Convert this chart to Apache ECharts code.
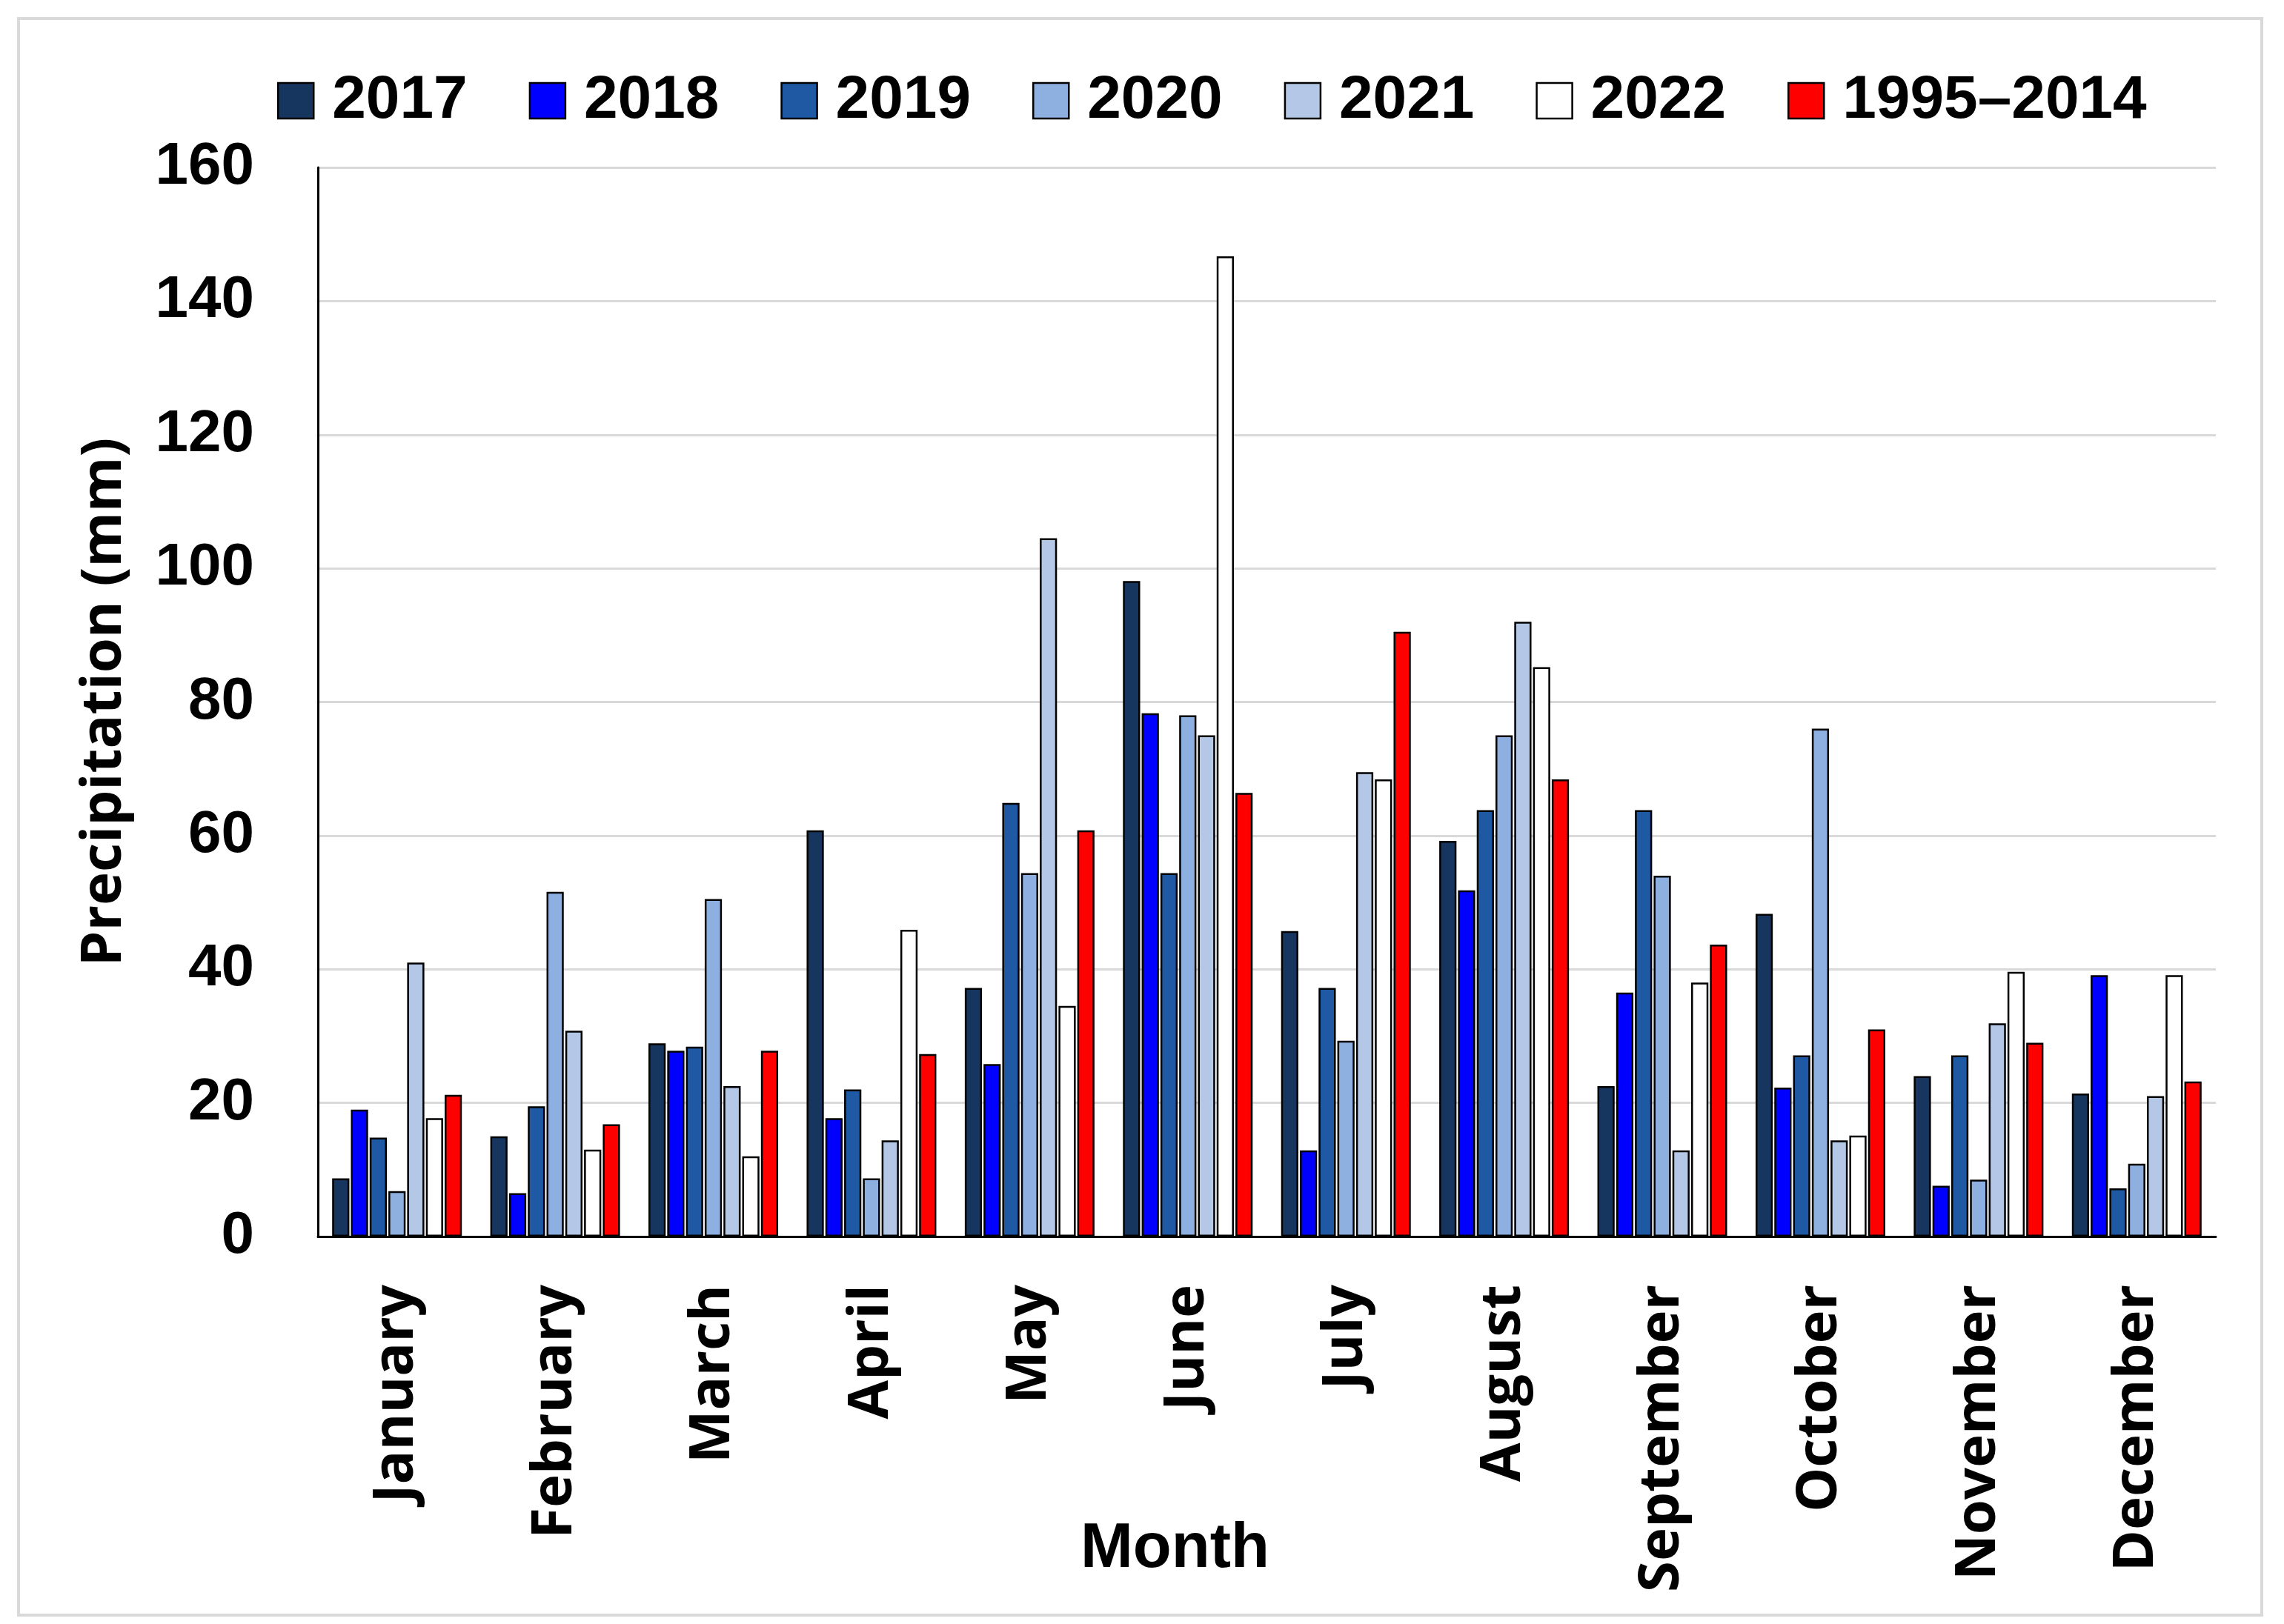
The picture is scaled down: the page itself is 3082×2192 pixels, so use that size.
<!DOCTYPE html>
<html>
<head>
<meta charset="utf-8">
<script src="https://cdn.jsdelivr.net/npm/echarts@6/dist/echarts.min.js"></script>
<style>
html,body{margin:0;padding:0;background:#fff;}
#chart{width:3082px;height:2192px;}
</style>
</head>
<body>
<div id="chart"></div>
<script>
const months = ["January","February","March","April","May","June","July","August","September","October","November","December"];
const seriesNames = ["2017","2018","2019","2020","2021","2022","1995\u20132014"];
const v2017 = [8.7, 15, 28.9, 60.8, 37.2, 98.1, 45.7, 59.2, 22.5, 48.3, 24, 21.4];
const v2018 = [19, 6.5, 27.8, 17.7, 25.8, 78.3, 12.9, 51.8, 36.5, 22.3, 7.6, 39.1];
const v2019 = [14.8, 19.5, 28.4, 22, 64.9, 54.4, 37.2, 63.8, 63.8, 27.1, 27.1, 7.2];
const v2020 = [6.8, 51.6, 50.5, 8.7, 54.4, 78, 29.3, 75, 54, 76, 8.5, 10.9];
const v2021 = [41, 30.8, 22.5, 14.4, 104.5, 75, 69.5, 92, 12.9, 14.4, 31.9, 21];
const v2022 = [17.7, 13, 12, 45.9, 34.5, 146.7, 68.4, 85.2, 38, 15.1, 39.6, 39.1];
const vRef = [21.2, 16.8, 27.8, 27.3, 60.8, 66.4, 90.5, 68.4, 43.7, 31, 29, 23.2];
const yTicks = [0, 20, 40, 60, 80, 100, 120, 140, 160];

const values = [v2017, v2018, v2019, v2020, v2021, v2022, vRef];
const colors = ["#17365f", "#0000ff", "#1f58a3", "#8db0e0", "#b4c7e7", "#ffffff", "#ff0000"];

const chart = echarts.init(document.getElementById('chart'), null, {renderer: 'canvas'});
const option = {
  backgroundColor: '#ffffff',
  animation: false,
  graphic: [{
    type: 'rect',
    shape: {x: 25, y: 25, width: 3027, height: 2155},
    style: {fill: 'none', stroke: '#d9d9d9', lineWidth: 4},
    silent: true
  }],
  legend: {
    data: seriesNames,
    left: 369,
    top: 90,
    icon: 'rect',
    itemWidth: 48,
    itemHeight: 48,
    itemGap: 83,
    itemStyle: {borderColor: '#000', borderWidth: 2.5},
    textStyle: {
      fontFamily: 'Liberation Sans',
      fontWeight: 'bold',
      fontSize: 82,
      color: '#000',
      padding: [0, 0, 0, 20]
    }
  },
  grid: {left: 429, right: 92, top: 226, bottom: 523, containLabel: false, outerBoundsMode: 'none'},
  xAxis: {
    type: 'category',
    data: months,
    name: 'Month',
    nameLocation: 'middle',
    nameGap: 380,
    nameMoveOverlap: false,
    nameTextStyle: {fontFamily: 'Liberation Sans', fontWeight: 'bold', fontSize: 85, color: '#000', padding: [0, 248, 0, 0]},
    axisLine: {lineStyle: {color: '#000', width: 3}},
    axisTick: {show: false},
    axisLabel: {
      interval: 0,
      rotate: 90,
      margin: 65,
      fontFamily: 'Open Sans',
      fontWeight: 'bold',
      fontSize: 76,
      color: '#000'
    }
  },
  yAxis: {
    type: 'value',
    min: yTicks[0],
    max: yTicks[yTicks.length - 1],
    interval: 20,
    name: 'Precipitation (mm)',
    nameLocation: 'middle',
    nameGap: 250,
    nameMoveOverlap: false,
    nameTextStyle: {fontFamily: 'Open Sans', fontWeight: 'bold', fontSize: 76, color: '#000'},
    axisLine: {show: true, lineStyle: {color: '#000', width: 3}},
    axisTick: {show: false},
    splitLine: {lineStyle: {color: '#d9d9d9', width: 3}},
    axisLabel: {
      margin: 86,
      fontFamily: 'Liberation Sans',
      fontWeight: 'bold',
      fontSize: 80,
      color: '#000'
    }
  },
  series: seriesNames.map((n, i) => ({
    name: n,
    type: 'bar',
    data: values[i],
    barCategoryGap: '18%',
    barGap: '9%',
    itemStyle: {color: colors[i], borderColor: '#000', borderWidth: 2.5}
  }))
};
chart.setOption(option);
</script>
</body>
</html>
